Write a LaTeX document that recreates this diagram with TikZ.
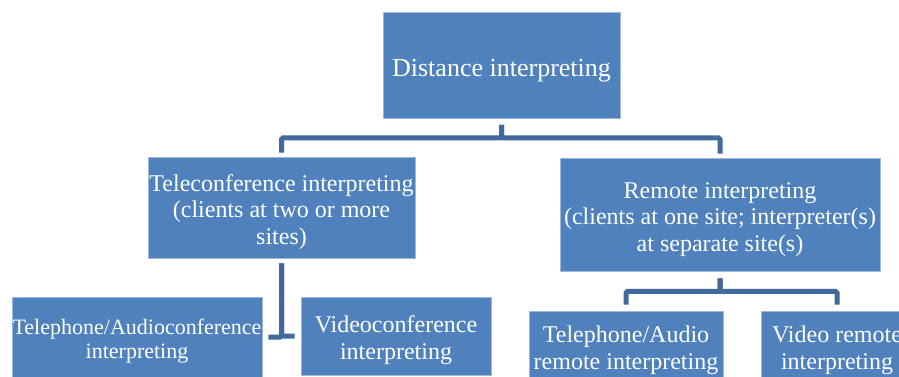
\documentclass[tikz,border=0pt]{standalone}
\usepackage{fontspec}
\setmainfont{Liberation Serif}
\usepackage{xcolor}
\usepackage{tikz}
\usetikzlibrary{calc}
\definecolor{boxcolor}{HTML}{4F81BD}
\definecolor{edgecolor}{HTML}{9DB8DC}
\definecolor{linkcolor}{HTML}{41699C}
\newcommand{\tstrut}{\rule{0pt}{1.05em}}

\begin{document}
\begin{tikzpicture}[x=1pt,y=-1pt,
    box/.style={fill=boxcolor,draw=edgecolor,line width=0.8pt,text=white,align=center,
      inner sep=0pt,font=\fontsize{24}{26.5}\selectfont},
    link/.style={linkcolor,line width=5pt,rounded corners=1.5pt}]
   \useasboundingbox (0,0) rectangle (899,376);
   \clip (0,0) rectangle (899,376);
%% top level
   \node[box,minimum width=237pt,minimum height=106pt,font=\fontsize{26}{30}\selectfont] (dist) at (501.5,65.5) {\tstrut Distance interpreting};
%% second level
   \node[box,minimum width=267pt,minimum height=101pt] (tele) at (281.5,207.5) {\tstrut Teleconference interpreting\\(clients at two or more\\sites)};
   \node[box,minimum width=320pt,minimum height=113pt] (remote) at (720,214.5) {\tstrut Remote interpreting\\(clients at one site; interpreter(s)\\at separate site(s)};
%% third level
   \node[box,minimum width=250pt,minimum height=80pt,font=\fontsize{22}{24}\selectfont] (audioconf) at (137,337) {\tstrut Telephone/Audioconference\\interpreting};
   \node[box,minimum width=190pt,minimum height=78pt] (videoconf) at (396,336) {\tstrut Videoconference\\interpreting};
   \node[box,minimum width=194pt,minimum height=70pt] (audioremote) at (626,346) {\tstrut Telephone/Audio\\remote interpreting};
   \node[box,minimum width=152pt,minimum height=70pt] (videoremote) at (837,346) {\tstrut Video remote\\interpreting};
%% connectors
   \draw[link,shorten <=6pt,shorten >=4pt] (dist.south) -- ++(0,19) -| (tele.north);
   \draw[link,shorten <=6pt,shorten >=4pt] (dist.south) -- ++(0,19) -| (remote.north);
   \draw[link,shorten <=5pt,shorten >=6pt] (tele.south) |- (audioconf.east);
   \draw[link,shorten <=5pt,shorten >=6pt] (tele.south) |- (videoconf.west);
   \draw[link,shorten <=7pt,shorten >=6pt] (remote.south) -- ++(0,20) -| (audioremote.north);
   \draw[link,shorten <=7pt,shorten >=6pt] (remote.south) -- ++(0,20) -| (videoremote.north);
\end{tikzpicture}
\end{document}
